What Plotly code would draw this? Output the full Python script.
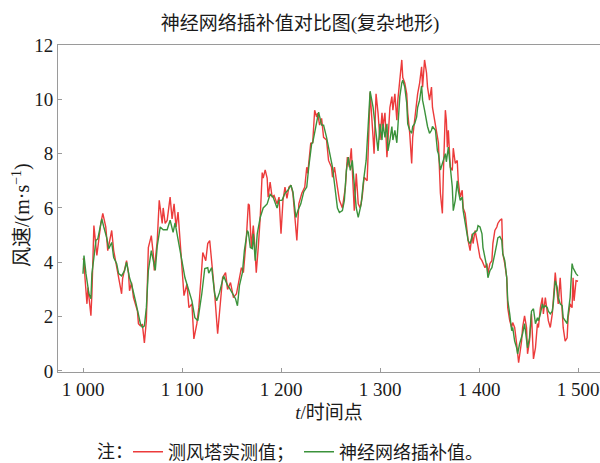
import plotly.graph_objects as go

# Measured wind speed at the met mast (m/s) by time index
red_t = [
    1000, 1001, 1002, 1004, 1005, 1008, 1009, 1011, 1014, 1016,
    1018, 1020, 1023, 1025, 1027, 1029, 1031, 1034, 1036, 1039,
    1040, 1042, 1044, 1046, 1047, 1049, 1051, 1055, 1056, 1058,
    1060, 1062, 1064, 1066, 1069, 1071, 1072, 1075, 1077, 1080,
    1081, 1083, 1085, 1088, 1090, 1092, 1094, 1096, 1098, 1100,
    1102, 1105, 1107, 1110, 1112, 1115, 1117, 1120, 1121, 1124,
    1126, 1128, 1131, 1133, 1136, 1139, 1141, 1144, 1146, 1149,
    1152, 1155, 1157, 1160, 1162, 1165, 1167, 1168, 1170, 1172,
    1173, 1175, 1177, 1179, 1181, 1182, 1184, 1186, 1187, 1189,
    1191, 1193, 1196, 1198, 1200, 1202, 1204, 1206, 1208, 1210,
    1212, 1214, 1216, 1218, 1221, 1224, 1226, 1227, 1230, 1232,
    1234, 1236, 1237, 1239, 1241, 1243, 1246, 1248, 1251, 1252,
    1254, 1257, 1259, 1262, 1265, 1267, 1269, 1271, 1273, 1274,
    1276, 1278, 1280, 1282, 1284, 1287, 1288, 1290, 1293, 1294,
    1296, 1298, 1300, 1302, 1303, 1305, 1307, 1308, 1310, 1312,
    1313, 1315, 1317, 1318, 1320, 1322, 1323, 1325, 1327, 1328,
    1330, 1332, 1333, 1335, 1337, 1338, 1340, 1342, 1343, 1345,
    1347, 1348, 1350, 1352, 1353, 1356, 1358, 1359, 1361, 1363,
    1364, 1366, 1367, 1368, 1369, 1371, 1373, 1374, 1376, 1378,
    1379, 1381, 1383, 1384, 1386, 1388, 1389, 1391, 1393, 1394,
    1396, 1398, 1399, 1401, 1403, 1404, 1406, 1408, 1409, 1411,
    1413, 1414, 1416, 1418, 1419, 1421, 1423, 1424, 1426, 1428,
    1429, 1431, 1433, 1434, 1436, 1438, 1439, 1440, 1443, 1444,
    1446, 1448, 1449, 1451, 1453, 1455, 1457, 1459, 1460, 1462,
    1464, 1465, 1467, 1469, 1470, 1472, 1474, 1475, 1477, 1479,
    1480, 1482, 1484, 1485, 1487, 1489, 1490, 1492, 1494, 1495,
    1496, 1498, 1500,
]
red_v = [
    4.14, 4.06, 3.43, 2.47, 3.07, 2.03, 2.84, 5.35, 4.25, 4.90,
    5.43, 5.80, 5.30, 4.43, 4.80, 5.17, 4.43, 3.80, 3.43, 2.84,
    3.40, 3.69, 4.06, 3.58, 2.95, 3.25, 2.70, 2.20, 1.74, 1.66,
    1.70, 1.03, 1.85, 4.54, 4.98, 4.30, 3.70, 4.80, 6.28, 5.43,
    6.00, 5.43, 5.54, 6.40, 5.60, 6.15, 5.30, 5.85, 4.90, 3.95,
    2.77, 3.20, 2.33, 2.47, 1.18, 1.74, 2.33, 3.80, 4.36, 4.06,
    4.69, 4.80, 3.70, 2.84, 1.37, 2.58, 3.43, 3.62, 3.00, 3.25,
    2.70, 2.84, 3.25, 3.80, 3.62, 4.90, 6.15, 6.10, 4.54, 5.35,
    4.90, 3.62, 4.54, 5.65, 7.30, 7.10, 7.40, 7.10, 6.40, 6.95,
    6.40, 6.46, 6.15, 6.40, 5.05, 6.28, 6.77, 6.35, 6.77, 6.84,
    6.54, 5.54, 4.80, 6.15, 6.54, 6.77, 7.50, 7.27, 8.38, 8.40,
    9.60, 9.35, 9.49, 9.05, 9.30, 8.60, 8.50, 7.75, 7.50, 7.13,
    7.50, 6.76, 6.28, 6.00, 6.76, 7.87, 7.50, 8.20, 6.28, 5.90,
    7.27, 6.15, 6.00, 6.40, 7.13, 7.00, 8.00, 10.25, 8.60, 8.00,
    10.20, 9.50, 8.50, 9.50, 9.00, 9.50, 7.87, 8.60, 9.70, 10.10,
    9.60, 10.20, 9.23, 9.97, 10.60, 11.45, 10.80, 10.60, 10.20, 9.50,
    8.75, 7.64, 8.60, 9.35, 10.10, 10.20, 10.60, 11.20, 10.45, 11.45,
    10.97, 10.45, 9.97, 10.45, 9.70, 9.00, 8.60, 8.40, 6.54, 5.80,
    7.27, 9.60, 9.23, 8.24, 8.86, 7.50, 7.38, 8.20, 7.64, 7.75,
    7.00, 6.40, 6.65, 6.00, 5.80, 5.17, 4.80, 4.43, 5.05, 4.69,
    5.17, 4.80, 4.54, 4.17, 4.06, 3.95, 3.80, 3.95, 3.58, 3.95,
    4.06, 4.69, 5.17, 5.30, 5.43, 5.54, 5.60, 4.32, 3.95, 3.43,
    2.33, 1.85, 1.60, 1.78, 1.60, 1.00, 0.74, 0.30, 1.10, 1.60,
    2.03, 1.60, 0.63, 1.10, 2.10, 0.44, 0.85, 1.74, 1.60, 2.33,
    2.70, 2.10, 2.70, 2.20, 1.85, 1.60, 2.10, 2.58, 3.62, 2.84,
    2.47, 3.43, 2.33, 1.60, 1.10, 1.22, 1.96, 2.47, 2.33, 3.43,
    2.58, 3.32, 3.30,
]

# Neural-network interpolated wind speed (m/s) by time index
green_t = [
    1000, 1001, 1003, 1004, 1006, 1008, 1009, 1011, 1013, 1015,
    1016, 1019, 1021, 1024, 1026, 1029, 1031, 1034, 1036, 1039,
    1042, 1044, 1047, 1049, 1053, 1056, 1058, 1060, 1062, 1064,
    1066, 1069, 1071, 1073, 1075, 1078, 1081, 1085, 1088, 1091,
    1093, 1096, 1100, 1103, 1106, 1110, 1113, 1116, 1120, 1123,
    1126, 1127, 1130, 1133, 1135, 1138, 1142, 1146, 1148, 1151,
    1154, 1156, 1158, 1161, 1163, 1166, 1167, 1169, 1171, 1172,
    1174, 1176, 1179, 1182, 1186, 1189, 1192, 1196, 1198, 1201,
    1204, 1207, 1210, 1212, 1215, 1217, 1220, 1223, 1226, 1228,
    1231, 1232, 1236, 1238, 1241, 1243, 1246, 1249, 1252, 1254,
    1257, 1259, 1262, 1264, 1266, 1268, 1270, 1272, 1273, 1276,
    1278, 1281, 1283, 1286, 1288, 1290, 1293, 1295, 1297, 1298,
    1300, 1302, 1303, 1305, 1307, 1308, 1310, 1312, 1313, 1315,
    1317, 1318, 1320, 1322, 1323, 1325, 1327, 1328, 1330, 1332,
    1333, 1335, 1337, 1338, 1340, 1342, 1343, 1345, 1347, 1348,
    1350, 1352, 1353, 1356, 1358, 1359, 1361, 1363, 1364, 1366,
    1367, 1369, 1371, 1373, 1374, 1376, 1378, 1379, 1381, 1383,
    1384, 1386, 1388, 1389, 1391, 1393, 1394, 1398, 1399, 1401,
    1403, 1404, 1406, 1408, 1409, 1411, 1413, 1414, 1416, 1418,
    1419, 1421, 1423, 1424, 1426, 1428, 1429, 1431, 1433, 1434,
    1436, 1438, 1439, 1441, 1443, 1444, 1446, 1448, 1449, 1451,
    1453, 1455, 1457, 1459, 1460, 1462, 1464, 1465, 1467, 1469,
    1470, 1472, 1474, 1475, 1477, 1479, 1480, 1482, 1484, 1485,
    1487, 1489, 1490, 1492, 1494, 1495, 1498, 1500,
]
green_v = [
    3.58, 4.25, 3.58, 3.32, 2.84, 2.66, 3.58, 4.17, 4.80, 4.87,
    5.05, 5.60, 5.30, 4.90, 4.50, 4.73, 4.17, 3.95, 3.58, 3.50,
    3.69, 4.00, 3.43, 3.20, 2.58, 2.10, 1.74, 1.60, 1.66, 2.33,
    3.69, 4.43, 4.10, 3.70, 4.60, 5.30, 5.20, 5.20, 5.55, 5.10,
    5.45, 4.80, 3.95, 3.43, 3.07, 2.58, 1.96, 1.85, 2.84, 3.77,
    3.80, 3.60, 3.80, 2.84, 2.58, 2.90, 3.50, 3.15, 3.05, 2.88,
    2.66, 2.40, 3.14, 3.62, 4.43, 5.17, 5.10, 4.54, 4.50, 5.05,
    4.06, 5.05, 5.65, 6.00, 6.15, 6.50, 6.40, 6.00, 6.28, 6.28,
    6.54, 6.65, 6.84, 6.60, 5.65, 5.90, 6.15, 6.60, 6.77, 7.50,
    8.38, 8.40, 9.10, 9.53, 9.05, 9.05, 8.60, 8.00, 7.50, 6.90,
    6.00, 5.83, 5.90, 6.28, 7.38, 7.87, 7.38, 7.75, 7.27, 6.00,
    5.65, 6.15, 6.90, 7.75, 9.00, 10.30, 9.70, 9.10, 8.50, 8.10,
    9.10, 8.50, 9.10, 8.60, 9.10, 8.10, 8.50, 9.00, 8.50, 8.86,
    8.40, 9.10, 10.10, 10.60, 10.70, 10.45, 9.86, 9.10, 8.86, 8.75,
    9.00, 9.10, 9.35, 9.70, 9.97, 10.50, 9.97, 9.60, 9.10, 9.00,
    8.75, 8.86, 9.00, 8.86, 8.10, 8.00, 7.40, 7.64, 7.75, 8.00,
    7.70, 8.24, 7.50, 6.77, 5.90, 6.28, 7.00, 6.65, 6.28, 6.40,
    5.90, 5.43, 5.05, 4.80, 4.69, 4.90, 5.05, 5.17, 5.35, 5.30,
    5.05, 4.54, 4.17, 3.80, 3.43, 3.69, 3.80, 3.95, 4.32, 4.69,
    4.90, 4.95, 4.80, 4.32, 4.06, 3.43, 2.60, 2.10, 1.48, 1.60,
    1.10, 0.85, 0.63, 1.00, 1.22, 1.37, 1.74, 1.22, 0.85, 1.22,
    2.20, 2.29, 1.74, 1.96, 1.85, 2.10, 2.47, 2.33, 2.40, 2.33,
    2.20, 2.10, 2.20, 2.47, 3.32, 3.07, 2.70, 2.47, 2.40, 1.96,
    1.85, 1.74, 2.10, 2.70, 3.95, 3.80, 3.58, 3.50,
]

x_tickvals = [1000, 1100, 1200, 1300, 1400, 1500]
x_ticktext = ["1 000", "1 100", "1 200", "1 300", "1 400", "1 500"]
y_tickvals = [0, 2, 4, 6, 8, 10, 12]

series_names = ["测风塔实测值；", "神经网络插补值。"]
title_text = "神经网络插补值对比图(复杂地形)"
y_title = "风速/(m·s<sup>−1</sup>)"
note_label = "注："

FONT = "Liberation Serif, Noto Sans CJK SC, serif"
AXIS_GREY = "#9a9a9a"
W, H = 600, 463

fig = go.Figure()
fig.add_trace(go.Scatter(
    x=red_t, y=red_v, mode="lines", name=series_names[0],
    line=dict(color="#ec3b3b", width=1.4),
))
fig.add_trace(go.Scatter(
    x=green_t, y=green_v, mode="lines", name=series_names[1],
    line=dict(color="#3b923b", width=1.4),
))

fig.update_layout(
    width=W, height=H,
    margin=dict(l=58, r=0, t=45, b=91),
    paper_bgcolor="white", plot_bgcolor="white",
    font=dict(family=FONT, size=19, color="#1a1a1a"),
    title=dict(
        text=title_text, x=0.5, xref="container", xanchor="center",
        y=1 - 23 / H, yref="container", yanchor="middle",
        font=dict(family=FONT, size=19, color="#1a1a1a"),
    ),
    showlegend=True,
    legend=dict(
        orientation="h", xref="container", yref="container",
        x=128 / W, xanchor="left", y=1 - 452 / H, yanchor="middle",
        font=dict(family=FONT, size=18, color="#1a1a1a"),
        bgcolor="rgba(0,0,0,0)", itemwidth=30, tracegroupgap=0,
    ),
    annotations=[
        dict(
            text=y_title, textangle=-90, showarrow=False,
            xref="paper", yref="paper", x=-37 / 542, y=0.48,
            xanchor="center", yanchor="middle",
            font=dict(family=FONT, size=20, color="#1a1a1a"),
        ),
        dict(
            text=note_label, showarrow=False,
            xref="paper", yref="paper", x=(95 - 58) / 542,
            y=(H - 91 - 452) / (H - 45 - 91),
            xanchor="left", yanchor="middle",
            font=dict(family=FONT, size=18, color="#1a1a1a"),
        ),
    ],
)

fig.update_xaxes(
    range=[974.75, 1522.2],
    tickmode="array", tickvals=x_tickvals, ticktext=x_ticktext,
    ticks="inside", ticklen=4, tickcolor=AXIS_GREY,
    showline=True, linecolor=AXIS_GREY, linewidth=1, mirror=True,
    showgrid=False, zeroline=False,
    tickfont=dict(family=FONT, size=19),
    title=dict(text="<i>t</i>/时间点", standoff=6,
               font=dict(family=FONT, size=19)),
)
fig.update_yaxes(
    range=[-0.04, 12],
    tickmode="array", tickvals=y_tickvals,
    ticks="inside", ticklen=4, tickcolor=AXIS_GREY,
    showline=True, linecolor=AXIS_GREY, linewidth=1, mirror=False,
    showgrid=False, zeroline=False,
    tickfont=dict(family=FONT, size=19),
)

fig.write_html("out.html")
